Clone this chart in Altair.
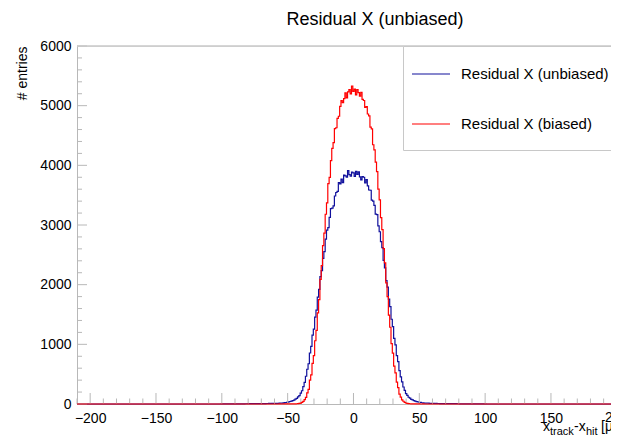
import altair as alt
import pandas as pd

# ---------------- data ----------------
series_names = ["Residual X (unbiased)", "Residual X (biased)"]
series_colors = ["#10109c", "#ff0000"]

core_start = -60  # first bin centre of the core arrays (1 um bins)
unbiased_core = [
    10, 11, 10, 12, 14, 15, 16, 19, 22, 25, 31, 34, 42, 47, 57, 65, 81, 93, 118, 140, 182, 222, 292, 361, 465,
    582, 675, 855, 965, 1155, 1255, 1455, 1575, 1790, 1920, 2135, 2237, 2440, 2555, 2762,
    2915, 2957, 3127, 3275, 3283, 3320, 3486, 3545, 3565, 3712, 3690, 3768, 3708, 3835, 3823, 3802, 3911,
    3843, 3817, 3888, 3873, 3813, 3900, 3847, 3892, 3807, 3755, 3810, 3800, 3704, 3760, 3655, 3587, 3582,
    3418, 3400, 3330, 3182, 3173, 2985, 2887,
    2722, 2620, 2408, 2280, 2068, 1960, 1758, 1633, 1420, 1298, 1100, 990, 812, 709, 560,
    455, 370, 285, 229, 175, 145, 113, 97, 78, 68, 55, 49, 40, 36, 29, 26, 21, 20, 16, 15, 13, 13, 11, 10, 9,
]
biased_core = [
    0, 0, 0, 0, 1, 0, 0, 1, 0, 1, 1, 0, 1, 1, 2, 3, 2, 4, 6, 11, 15, 28, 43, 74, 110,
    185, 245, 400, 487, 680, 810, 1060, 1235, 1528, 1750, 2088, 2320, 2655, 2865, 3180,
    3370, 3695, 3798, 4080, 4285, 4382, 4615, 4630, 4788, 4823, 4988, 5084, 5050, 5117, 5213, 5129, 5230,
    5268, 5196, 5330, 5238, 5276, 5182, 5271, 5217, 5160, 5224, 5105, 5087, 4973, 4985, 4860, 4830, 4642,
    4611, 4345, 4258, 4054, 3896, 3600, 3422,
    3122, 2922, 2605, 2365, 2030, 1800, 1488, 1286, 1012, 852, 635, 521, 368, 274, 167,
    115, 70, 46, 26, 17, 9, 6, 4, 3, 2, 1, 1, 1, 0, 1, 0, 0, 1, 0, 0, 0, 0, 0, 0, 0,
]
unbiased_tail_left_start = -100  # bins -100 .. -61
unbiased_tail_left = [1, 1, 2, 1, 2, 2, 1, 2, 3, 2, 2, 3, 2, 3, 3, 4, 3, 3, 4, 4,
                      5, 4, 5, 5, 6, 5, 6, 6, 7, 6, 7, 7, 8, 7, 8, 8, 9, 8, 9, 9]
unbiased_tail_right_start = 61  # bins 61 .. 100
unbiased_tail_right = [9, 8, 9, 8, 8, 7, 7, 8, 6, 7, 6, 6, 5, 6, 5, 5, 4, 5, 4, 4,
                       3, 4, 3, 3, 3, 2, 3, 2, 2, 2, 2, 1, 2, 1, 1, 2, 1, 1, 1, 1]

hist_range = [-210, 210]
x_domain = [-210, 195.6]          # visible part of the frame (right side is cut off)
y_domain = [0, 6000]
x_label_values = [-200, -150, -100, -50, 0, 50, 100, 150]
x_label_cut = [200]               # label that sits at the cut-off right edge
y_label_values = [0, 1000, 2000, 3000, 4000, 5000, 6000]
x_major_values = [-200, -150, -100, -50, 0, 50, 100, 150, 200]
x_minor_values = [v for v in range(-210, 211, 10) if v % 50 != 0]
y_minor_values = [v for v in range(0, 6001, 200) if v % 1000 != 0]


def assemble(name, pieces):
    counts = {x: 0 for x in range(hist_range[0], hist_range[1] + 1)}
    for start, vals in pieces:
        for i, v in enumerate(vals):
            counts[start + i] = v
    return pd.DataFrame({"x": list(counts.keys()), "count": list(counts.values()), "series": name})


df_unb = assemble(series_names[0], [(unbiased_tail_left_start, unbiased_tail_left),
                                    (core_start, unbiased_core),
                                    (unbiased_tail_right_start, unbiased_tail_right)])
df_bia = assemble(series_names[1], [(core_start, biased_core)])

# ---------------- layout ----------------
W, H = 534, 358
FONT = "Liberation Sans"
GRAY = "#b8b8b8"
FRAME = "#c8c8c8"
LABEL_PAD = 7

xscale = alt.Scale(domain=x_domain, nice=False, zero=False)
yscale = alt.Scale(domain=y_domain, nice=False)
cscale = alt.Scale(domain=series_names, range=series_colors)

nbsp_pad = "\u00a0" * 14
legend = alt.Legend(
    title="\u00a0", titleOrient="bottom", titleFontSize=8, titlePadding=2,
    orient="none", legendX=326, legendY=0, direction="vertical",
    symbolType="stroke", symbolSize=1444, symbolStrokeWidth=1.2,
    labelFont=FONT, labelFontSize=15, labelColor="black", labelOffset=10,
    labelLimit=0, rowPadding=22, padding=8,
    fillColor="white", strokeColor=FRAME,
    labelExpr="datum.label + '" + nbsp_pad + "'",
)

x_axis = alt.Axis(
    values=x_label_values, ticks=False, grid=False, title=None,
    labelFont=FONT, labelFontSize=14, labelColor="black", labelPadding=LABEL_PAD,
    domainColor=GRAY, labelFlush=False, format="d",
)
y_axis = alt.Axis(
    values=y_label_values, ticks=False, grid=False, title="# entries",
    labelFont=FONT, labelFontSize=14, labelColor="black", labelPadding=6,
    domainColor=GRAY, format="d",
    titleFont=FONT, titleFontSize=14, titleFontWeight="normal", titleColor="black",
    titleAngle=270, titleAlign="right", titleBaseline="middle", titleX=-55, titleY=0,
)

line_unb = alt.Chart(df_unb).mark_line(interpolate="step", strokeWidth=1.2).encode(
    x=alt.X("x:Q", scale=xscale, axis=x_axis),
    y=alt.Y("count:Q", scale=yscale, axis=y_axis),
    color=alt.Color("series:N", scale=cscale, legend=legend),
)
line_bia = alt.Chart(df_bia).mark_line(interpolate="step", strokeWidth=1.2).encode(
    x=alt.X("x:Q", scale=xscale, axis=x_axis),
    y=alt.Y("count:Q", scale=yscale, axis=y_axis),
    color=alt.Color("series:N", scale=cscale, legend=legend),
)


def xticks(vals, length):
    return alt.Chart(pd.DataFrame({"x": vals})).mark_rule(color=GRAY, strokeWidth=1).encode(
        x=alt.X("x:Q", scale=xscale, axis=x_axis),
        y=alt.value(H), y2=alt.value(H - length),
    )


def yticks(vals, length):
    return alt.Chart(pd.DataFrame({"count": vals})).mark_rule(color=GRAY, strokeWidth=1).encode(
        y=alt.Y("count:Q", scale=yscale, axis=y_axis),
        x=alt.value(0), x2=alt.value(length),
    )


# the "200" label lies beyond the visible frame: place it through the x scale
cut_label = alt.Chart(pd.DataFrame({"x": x_label_cut})).mark_text(
    font=FONT, fontSize=14, color="black", align="center", baseline="top"
).encode(
    x=alt.X("x:Q", scale=xscale, axis=x_axis),
    y=alt.value(H + LABEL_PAD),
    text=alt.Text("x:Q", format="d"),
)

one = pd.DataFrame({"k": [0]})

top_frame = alt.Chart(one).mark_rule(color=FRAME, strokeWidth=1.5).encode(
    x=alt.value(0), x2=alt.value(W), y=alt.value(0)
)


def label(text, px, py, size):
    return alt.Chart(one).mark_text(
        text=text, font=FONT, fontSize=size, color="black", align="left", baseline="alphabetic"
    ).encode(x=alt.value(px), y=alt.value(py))


xtitle = [
    label("x", 466, 385, 14),
    label("track", 473, 389, 11),
    label("-x", 497, 385, 14),
    label("hit", 509, 389, 11),
    label("[\u03bcm]", 524, 385, 14),
]

chart = alt.layer(
    line_unb,
    xticks(x_minor_values, 5.5), xticks(x_major_values, 11),
    yticks(y_minor_values, 5), yticks(y_label_values, 10),
    top_frame, cut_label,
    line_bia, *xtitle,
).properties(
    width=W, height=H,
    title=alt.TitleParams("Residual X (unbiased)", font=FONT, fontSize=18, fontWeight="normal",
                          color="black", anchor="middle", dx=31, offset=10),
    padding={"left": 69, "top": 38, "right": 0, "bottom": 32},
    autosize=alt.AutoSizeParams(type="none"),
).configure_view(stroke=None).configure(background="white")

chart.save("out.html", embed_options={"renderer": "svg", "actions": False})
